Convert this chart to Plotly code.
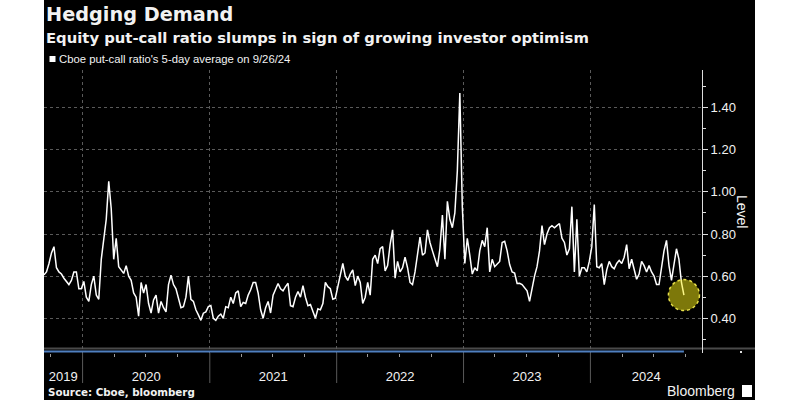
import plotly.graph_objects as go
import pandas as pd

# ---- data ----
start_date = "2019-09-12"
end_date = "2024-09-26"
ratio_values = [
    0.606, 0.62, 0.66, 0.71, 0.74, 0.64, 0.62, 0.61, 0.59, 0.575,
    0.56, 0.58, 0.62, 0.62, 0.54, 0.54, 0.575, 0.50, 0.48, 0.56,
    0.60, 0.51, 0.49, 0.68, 0.78, 0.87, 1.05, 0.92, 0.68, 0.78,
    0.645, 0.63, 0.613, 0.65, 0.60, 0.58, 0.52, 0.50, 0.41, 0.57,
    0.52, 0.56, 0.47, 0.425, 0.487, 0.51, 0.424, 0.48, 0.45, 0.43,
    0.56, 0.605, 0.56, 0.54, 0.487,
    0.45, 0.455, 0.50, 0.60, 0.49, 0.48, 0.44, 0.416, 0.39, 0.424,
    0.43, 0.455, 0.46, 0.40, 0.39, 0.41, 0.42, 0.40, 0.455, 0.45,
    0.50, 0.47, 0.52, 0.53, 0.455, 0.475, 0.47, 0.51, 0.535, 0.57,
    0.57, 0.52, 0.44, 0.40, 0.45, 0.48, 0.425, 0.51, 0.54, 0.565,
    0.54, 0.53, 0.55, 0.566, 0.46, 0.455, 0.50, 0.527, 0.50, 0.555,
    0.50, 0.46,
    0.465, 0.43, 0.40, 0.445, 0.44, 0.47, 0.57, 0.55, 0.54, 0.49,
    0.495, 0.55, 0.60, 0.66, 0.60, 0.58, 0.61, 0.63, 0.555, 0.60,
    0.57, 0.47, 0.50, 0.57, 0.51, 0.68, 0.70, 0.66, 0.73, 0.74,
    0.625, 0.65, 0.75, 0.82, 0.59, 0.67, 0.62, 0.64, 0.69, 0.64,
    0.57, 0.56, 0.62, 0.70, 0.785, 0.70, 0.71, 0.82, 0.76, 0.72,
    0.68, 0.645,
    0.73, 0.89, 0.68, 0.955, 0.87, 0.83, 0.90, 1.10, 1.47, 0.93,
    0.66, 0.78, 0.70, 0.61, 0.64, 0.625, 0.72, 0.77, 0.74, 0.83,
    0.62, 0.68, 0.645, 0.66, 0.67, 0.76, 0.765, 0.72, 0.655, 0.62,
    0.615, 0.565, 0.566, 0.56, 0.545, 0.53, 0.48, 0.55, 0.60, 0.645,
    0.72, 0.84, 0.75, 0.80, 0.83, 0.84, 0.83, 0.84, 0.85, 0.78,
    0.76, 0.70,
    0.73, 0.93, 0.62, 0.87, 0.60, 0.64, 0.64, 0.62, 0.67, 0.74,
    0.94, 0.645, 0.64, 0.66, 0.56, 0.63, 0.67, 0.645, 0.635, 0.66,
    0.675, 0.66, 0.69, 0.75, 0.635, 0.68, 0.635, 0.585, 0.61, 0.67,
    0.65, 0.62, 0.65, 0.62, 0.60, 0.56, 0.56, 0.64, 0.72, 0.77,
    0.65, 0.58, 0.66, 0.73, 0.68, 0.57, 0.51,
]
year_labels = ["2019", "2020", "2021", "2022", "2023", "2024"]
x_range = ["2019-09-12", "2024-11-17"]
y_range = [0.235, 1.579]

title = "Hedging Demand"
subtitle = "Equity put-call ratio slumps in sign of growing investor optimism"
legend_label = "Cboe put-call ratio's 5-day average on 9/26/24"
source_text = "Source: Cboe, bloomberg"
y_title = "Level"

dates = pd.date_range(start_date, end_date, periods=len(ratio_values))

# year boundaries and label positions (centre of the visible part of each year)
year_starts = [pd.Timestamp(f"{y}-01-01") for y in year_labels[1:]]
r0, r1 = pd.Timestamp(x_range[0]), pd.Timestamp(x_range[1])
label_pos = []
for y in year_labels:
    a = max(pd.Timestamp(f"{y}-01-01"), r0)
    b = min(pd.Timestamp(f"{int(y) + 1}-01-01"), r1)
    label_pos.append(a + (b - a) / 2)

# ---- layout helpers ----
W, H = 800, 400
L, R, T, B = 44, 98, 70, 47
PW, PH = W - L - R, H - T - B


def px(xp):
    return (xp - L) / PW


def py(yp):
    return (H - B - yp) / PH


FONT = "Liberation Sans"
BOLD = "DejaVu Sans"
WHITE = "#f2f2f2"

fig = go.Figure()
fig.add_trace(go.Scatter(
    x=dates, y=ratio_values, mode="lines",
    line=dict(color="white", width=1.5),
    name=legend_label, showlegend=False, hoverinfo="x+y",
))
# carrier trace for the year-label axis (invisible)
fig.add_trace(go.Scatter(
    x=dates, y=ratio_values, mode="lines", xaxis="x2", yaxis="y",
    line=dict(color="rgba(0,0,0,0)", width=0), opacity=0,
    showlegend=False, hoverinfo="skip",
))

shapes = []
shapes.append(dict(type="rect", xref="paper", yref="paper",
                   x0=px(44), x1=px(755), y0=py(400), y1=py(0),
                   fillcolor="black", line=dict(width=0), layer="below"))
shapes.append(dict(type="line", xref="paper", yref="paper",
                   x0=px(44), x1=px(755), y0=py(348.5), y1=py(348.5),
                   line=dict(color="#4a4a4a", width=2), layer="below"))
shapes.append(dict(type="line", xref="x", yref="paper",
                   x0=dates[0], x1=dates[-1], y0=py(351.5), y1=py(351.5),
                   line=dict(color="#4f7fbf", width=2)))
for ys in year_starts:
    shapes.append(dict(type="line", xref="x", yref="paper",
                       x0=ys, x1=ys, y0=py(353), y1=py(383),
                       line=dict(color="#5a5a5a", width=1)))
shapes.append(dict(type="circle", xref="x", yref="y",
                   xsizemode="pixel", ysizemode="pixel",
                   xanchor=dates[-1], yanchor=ratio_values[-1],
                   x0=-15.5, x1=15.5, y0=-15.5, y1=15.5,
                   fillcolor="rgba(250,240,20,0.5)",
                   line=dict(color="#e8e04a", width=1.5, dash="dot")))
shapes.append(dict(type="rect", xref="paper", yref="paper",
                   x0=px(49.5), x1=px(55.5), y0=py(62), y1=py(56),
                   fillcolor="white", line=dict(width=0)))
shapes.append(dict(type="rect", xref="paper", yref="paper",
                   x0=px(742), x1=px(752), y0=py(397), y1=py(385),
                   fillcolor="white", line=dict(width=0)))
shapes.append(dict(type="rect", xref="paper", yref="paper",
                   x0=px(740), x1=px(742), y0=py(353), y1=py(351),
                   fillcolor="#dddddd", line=dict(width=0)))

annotations = [
    dict(text="<b>" + title + "</b>", x=px(44), y=py(15), xref="paper", yref="paper",
         xanchor="left", yanchor="middle", showarrow=False,
         font=dict(family=BOLD, size=19.3, color=WHITE)),
    dict(text="<b>" + subtitle + "</b>", x=px(44), y=py(37), xref="paper", yref="paper",
         xanchor="left", yanchor="middle", showarrow=False,
         font=dict(family=BOLD, size=14.8, color=WHITE)),
    dict(text=legend_label, x=px(56.5), y=py(59), xref="paper", yref="paper",
         xanchor="left", yanchor="middle", showarrow=False,
         font=dict(family=FONT, size=11.3, color=WHITE)),
    dict(text=y_title, x=px(742), y=py(212), xref="paper", yref="paper",
         xanchor="center", yanchor="middle", showarrow=False, textangle=90,
         font=dict(family=FONT, size=14, color=WHITE)),
    dict(text="<b>" + source_text + "</b>", x=px(46), y=py(392), xref="paper", yref="paper",
         xanchor="left", yanchor="middle", showarrow=False,
         font=dict(family=BOLD, size=10.3, color=WHITE)),
    dict(text="Bloomberg", x=px(737), y=py(391), xref="paper", yref="paper",
         xanchor="right", yanchor="middle", showarrow=False,
         font=dict(family=FONT, size=14, color=WHITE)),
]

fig.update_layout(
    width=W, height=H,
    margin=dict(l=L, r=R, t=T, b=B, pad=0),
    paper_bgcolor="white", plot_bgcolor="black",
    shapes=shapes, annotations=annotations,
    showlegend=False,
    xaxis=dict(
        type="date", range=x_range, fixedrange=True,
        tick0="2019-01-01", dtick="M12",
        ticks="", showticklabels=False,
        showgrid=True, gridcolor="#5a5a5a", griddash="dot", gridwidth=1,
        showline=False, zeroline=False,
        minor=dict(dtick="M3", tick0="2019-01-01", ticks="outside", ticklen=3,
                   tickcolor="#9a9a9a", showgrid=False),
    ),
    xaxis2=dict(
        type="date", range=x_range, overlaying="x", anchor="y", side="bottom",
        fixedrange=True, tickmode="array", tickvals=label_pos, ticktext=year_labels,
        ticks="", ticklabelstandoff=14, showgrid=False, showline=False, zeroline=False,
        tickfont=dict(family=FONT, size=13, color=WHITE),
    ),
    yaxis=dict(
        side="right", range=y_range, fixedrange=True,
        tick0=0, dtick=0.2, tickformat=".2f",
        ticks="outside", ticklen=5, tickcolor="#dddddd",
        showline=True, linecolor="#dddddd", linewidth=1,
        showgrid=True, gridcolor="#5a5a5a", griddash="dot", gridwidth=1,
        zeroline=False,
        tickfont=dict(family=FONT, size=13, color=WHITE),
        minor=dict(dtick=0.1, ticks="outside", ticklen=3, tickcolor="#dddddd", showgrid=False),
    ),
)

fig.write_html("out.html", config={"displayModeBar": False},
               post_script="document.body.style.margin='0';")
